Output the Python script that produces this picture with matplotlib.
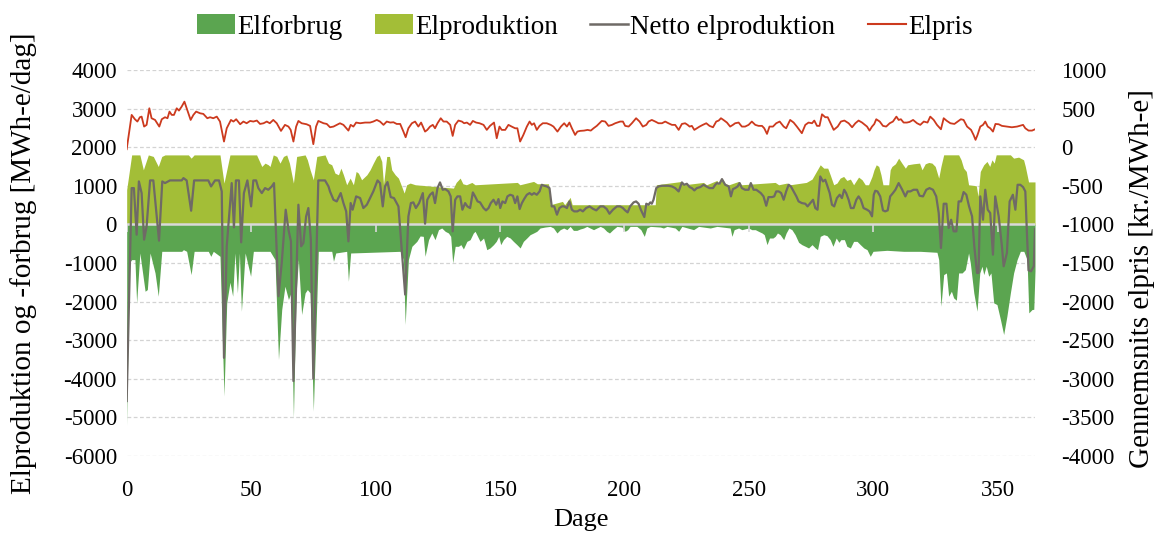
import numpy as np
import matplotlib
matplotlib.use("Agg")
import matplotlib.pyplot as plt
from matplotlib.patches import Patch
from matplotlib.lines import Line2D

# ---------------- data ----------------
prod_days = [0, 2.0, 5.3, 6.7, 8.7, 10.7, 12.7, 14.1, 15.4, 24.8, 25.9, 27.1, 37.5, 39.1, 41.5, 52.2, 54.3, 55.6, 56.9, 57.6,
             58.9, 60.3, 61.6, 63.0, 64.3, 65.4, 67.0, 68.3, 71.7, 72.6, 73.7, 75.0, 76.4, 79.7, 81.1, 82.4, 83.7, 85.1, 86.1,
             87.1, 88.4, 89.8, 91.1, 92.2, 93.1, 94.4, 96.5, 97.8, 99.1, 100.5, 101.5, 102.5, 103.2, 104.5, 105.6, 106.5,
             107.9, 109.2, 110.5, 111.5, 112.5, 113.9, 116, 131.3, 132.4, 134.0, 135.1, 136.5, 138.7, 140, 157.0, 158, 163.5,
             165, 169.5, 170.2, 175.1, 176, 178.2, 179, 212.4, 212.8, 223.1, 224, 231.8, 233, 237.2, 238, 239.2, 240.5, 242,
             245.9, 247, 260.6, 262, 265.3, 266.5, 273.1, 275.4, 278.7, 280.1, 281.7, 282.7, 284.1, 285.4, 286.7, 288.1,
             289.4, 290.8, 292.1, 293.4, 294.1, 295.5, 296.8, 298.1, 299.5, 300.3, 301.2, 302.2, 303.1, 303.9, 306.2, 306.8,
             307.5, 308.9, 310.2, 311.5, 312.9, 313.8, 316.2, 318.6, 319.6, 320.9, 322.3, 323.6, 324.9, 326.3, 327.2, 328.3,
             334.3, 335.3, 336.3, 337.4, 338.3, 341.4, 342.1, 343.0, 344.4, 345.7, 346.8, 347.7, 348.6, 349.4, 355.1, 356.4,
             358.4, 360.4, 361.1, 362.4, 365]
prod_vals = [900, 1800, 1800, 1414, 1800, 1760, 1500, 1760, 1800, 1800, 1716, 1800, 1800, 1070, 1800, 1800, 1500, 1587, 1544, 1500,
             1800, 1760, 1587, 1760, 1800, 1587, 1070, 1760, 1800, 1673, 1414, 1156, 1760, 1800, 1587, 1544, 1328, 1285, 1457,
             1285, 1026, 1199, 1026, 1371, 1328, 1156, 1285, 1414, 1587, 1760, 1800, 1630, 1026, 1760, 1760, 1414,
             1285, 1199, 983, 811, 1026, 1070, 1026, 940, 1087, 1199, 1052, 1026, 1087, 1026, 1087, 1026, 1113,
             1052, 1052, 509, 595, 509, 700, 509, 509, 1026, 1113, 1026, 1087, 1026, 1139, 1026, 1199, 1052, 1026,
             1113, 1026, 1087, 1026, 1070, 1026, 1087, 1173, 1544, 1457, 1457, 1285, 1026, 1070, 1199, 1242,
             1139, 1173, 1026, 1156, 1225, 1156, 1026, 1026, 1242, 1414, 1544, 1501, 1285, 1026, 1026, 1414,
             1501, 1570, 1716, 1587, 1457, 1544, 1570, 1587, 1414, 1570, 1604, 1587, 1501, 1199, 1501, 1802,
             1802, 1673, 1457, 1371, 1026, 1000, 725, 1371, 1544, 1630, 1501, 1673, 1587, 1802, 1802, 1716,
             1742, 1673, 1501, 1100, 1100]

cons_days = [0, 1.0, 2.0, 3.3, 4.0, 5.3, 7.4, 8.3, 9.4, 11.4, 12.7, 14.1, 22.1, 22.8, 24.1, 25.9, 27.1, 32.8, 33.8, 34.8, 37.5,
             39.1, 40.2, 41.5, 42.6, 43.5, 44.5, 45.3, 46.1, 47.6, 49.8, 50.9, 57.6, 59.6, 61.0, 62.3, 63.6, 65.0, 66.0, 67.0,
             68.1, 69.0, 70.3, 71.7, 72.6, 73.7, 75.0, 76.1, 77.0, 82.4, 83.1, 84.0, 88.4, 89.1, 90.0, 109.9, 111.2, 111.9,
             113.2, 114.6, 116.6, 117.9, 119.2, 119.9, 121.3, 122.6, 123.9, 125.3, 126.6, 128.0, 129.3, 130.2, 131.0, 132.0,
             133.3, 134.3, 135.3, 136.7, 138.0, 139.3, 140.0, 141.0, 142.0, 143.4, 144.7, 146.0, 147.4, 148.5, 149.5, 150.3,
             151.4, 152.7, 154.1, 155.4, 156.8, 158.1, 159.4, 160.8, 162.1, 163.5, 164.8, 166.1, 168.1, 170.2, 171.5, 172.9,
             174.2, 175.6, 176.9, 178.2, 179.5, 180.9, 182.2, 183.6, 184.9, 186.2, 187.6, 188.9, 190.3, 191.6, 192.9, 194.0,
             195.4, 197.0, 199.0, 200.3, 201.3, 202.3, 205.0, 206.6, 208.0, 209.0, 210.4, 214.4, 215.7, 217.1, 220.4, 221.8,
             223.1, 227.8, 229.8, 234.5, 237.2, 242.5, 243.2, 244.1, 245.9, 247.2, 249.9, 251.2, 252.6, 253.9, 255.3, 256.2,
             257.3, 258.3, 259.7, 260.6, 261.5, 262.6, 264.0, 265.0, 266.1, 267.3, 268.6, 270.0, 271.3, 272.7, 274.0, 275.4,
             276.7, 277.6, 278.7, 280.1, 281.4, 282.7, 283.8, 285.1, 286.2, 287.0, 288.4, 289.4, 290.8, 292.1, 293.5, 294.8,
             296.2, 297.5, 298.8, 299.9, 305.5, 312.2, 318.9, 325.6, 326.3, 327.2, 328.3, 329.4, 330.3, 331.4, 332.3, 333.4,
             334.3, 335.7, 337.0, 338.3, 339.0, 340.4, 341.7, 342.8, 343.7, 344.4, 345.4, 346.4, 347.3, 348.4, 349.7, 351.1,
             352.4, 353.7, 355.1, 356.4, 357.8, 359.1, 360.5, 361.8, 362.5, 363.8, 364.5, 365.0]
cons_vals = [-5200, -1000, -913, -913, -2034, -741, -1732, -1689, -741, -1258, -1861, -698, -698, -655, -698, -1301, -698, -698, -827, -698, -827,
             -4447, -2034, -1500, -1861, -741, -1775, -741, -2249, -741, -1344, -698, -698, -913, -3499, -2206, -1603, -1947, -1775, -5008,
             -1775, -913, -2335, -1775, -1689, -1775, -4835, -2637, -698, -698, -956, -741, -698, -1473, -741, -698, -913, -2594,
             -913, -568, -440, -300, -310, -827, -396, -223, -396, -137, -94, -180, -223, -310, -999, -568,
             -568, -525, -637, -440, -396, -223, -180, -310, -440, -353, -655, -611, -525, -440, -310, -525,
             -396, -310, -353, -440, -525, -611, -440, -353, -267, -223, -180, -94, -69, -52, -94, -223,
             -137, -94, -137, -52, -155, -155, -120, -94, -52, -94, -137, -94, -52, -94, -180, -223,
             -137, -52, -69, -180, -137, -52, -52, -137, -310, -94, -52, -69, -94, -52, -94, -180,
             -52, -137, -52, -94, -52, -94, -310, -137, -94, -137, -94, -137, -137, -180, -223, -267,
             -525, -353, -353, -310, -223, -267, -396, -223, -94, -137, -267, -465, -525, -568, -611, -525,
             -611, -655, -310, -267, -292, -396, -568, -353, -465, -396, -396, -568, -611, -440, -440, -525,
             -611, -655, -827, -698, -672, -698, -698, -723, -913, -2120, -1301, -1258, -1861, -1732, -1904, -1965,
             -1258, -1258, -1172, -741, -999, -1775, -2249, -1258, -1085, -1301, -1085, -1344, -1258, -2034, -2077, -2465,
             -2853, -2378, -1775, -1258, -913, -698, -698, -913, -2292, -2206, -2200, -1200]

net_days = [0, 2.0, 2.9, 4.0, 4.9, 6.0, 7.0, 8.0, 9.4, 10.7, 13.0, 14.3, 15.4, 17.4, 22.1, 22.8, 24.1, 25.9, 27.1, 32.8, 33.9,
            35.5, 37.1, 38.2, 39.1, 40.2, 42.2, 43.1, 43.9, 45.1, 46.0, 47.1, 48.5, 50.0, 50.9, 52.0, 52.9, 54.3, 55.6, 56.9,
            58.3, 59.2, 61.0, 62.3, 63.9, 65.0, 66.0, 67.0, 69.0, 70.1, 71.0, 72.1, 73.0, 74.0, 75.0, 77.0, 79.7, 81.1, 81.7,
            83.1, 84.4, 86.0, 87.1, 88.2, 89.1, 90.0, 90.8, 92.2, 93.8, 95.1, 96.5, 97.8, 99.1, 100.8, 101.8, 102.9, 103.8,
            104.8, 106.1, 107.4, 109.2, 111.9, 113.2, 114.2, 115.2, 116.2, 117.5, 119.0, 119.9, 120.8, 121.9, 123.0, 123.9,
            124.9, 125.9, 127.0, 128.0, 129.3, 130.2, 131.0, 132.0, 132.9, 134.0, 134.9, 136.0, 136.9, 138.0, 139.1, 140.0,
            141.0, 142.0, 143.4, 144.4, 145.4, 146.3, 147.4, 148.5, 149.4, 150.1, 151.0, 152.1, 153.0, 154.1, 155.2, 156.1,
            157.0, 157.9, 158.8, 159.7, 160.8, 161.9, 162.8, 163.7, 164.8, 165.9, 166.8, 167.8, 168.8, 169.9, 170.8, 171.8,
            172.9, 173.9, 174.9, 175.8, 176.9, 177.9, 178.9, 179.8, 181.1, 182.2, 183.3, 184.6, 186.0, 187.3, 188.7, 190.3,
            191.6, 192.9, 194.0, 195.4, 197.0, 198.3, 199.4, 200.3, 201.3, 202.3, 203.7, 204.7, 205.7, 206.6, 208.0, 208.8,
            209.7, 210.4, 211.0, 211.7, 212.8, 213.7, 215.1, 217.7, 219.1, 220.4, 221.8, 223.1, 224.0, 225.1, 226.2, 227.1,
            228.1, 229.1, 230.5, 231.8, 232.9, 234.2, 235.6, 236.5, 237.2, 238.2, 239.2, 240.5, 241.9, 242.8, 243.6, 244.5,
            245.5, 246.3, 247.2, 248.5, 249.9, 250.8, 251.9, 253.0, 253.9, 254.8, 255.9, 257.0, 257.9, 259.3, 260.2, 261.0,
            262.0, 263.0, 264.0, 265.0, 266.0, 266.9, 268.0, 269.1, 270.0, 271.3, 272.7, 273.6, 274.7, 275.8, 276.7, 277.6,
            278.7, 279.8, 280.7, 281.4, 282.5, 283.4, 284.3, 285.4, 286.5, 287.4, 288.3, 289.1, 290.1, 291.0, 292.1, 293.2,
            294.1, 295.0, 296.1, 297.5, 298.5, 299.5, 300.2, 300.8, 301.7, 302.8, 303.9, 304.8, 305.8, 306.8, 307.9, 308.9,
            310.2, 311.5, 312.9, 313.8, 314.9, 316.2, 317.6, 318.6, 320.0, 321.3, 322.6, 324.0, 325.3, 326.3, 327.2, 328.3,
            329.4, 330.3, 331.3, 332.3, 333.4, 334.3, 335.3, 336.3, 337.4, 338.5, 339.7, 340.6, 341.7, 342.3, 343.0, 344.1,
            345.0, 346.0, 347.0, 348.1, 349.0, 350.4, 351.7, 352.4, 353.7, 354.8, 356.1, 357.1, 358.0, 359.1, 360.2, 361.1,
            361.8, 362.4, 363.4, 364.5, 365.0]
net_vals = [-4577, 940, 940, -267, 1113, 811, -396, -52, 1139, 1139, -422, 1113, 1070, 1139, 1139, 1199, 1139, 354, 1139, 1139, 983,
            1139, 1139, 854, -3456, -568, 1070, -77, 1139, 1139, -465, 811, 1139, 466, 1139, 1139, 940, 811, 940, 897,
            983, 1070, -1861, -999, 380, -137, -439, -4059, 509, -568, -482, 207, 423, -396, -3999, 1139, 1139, 983, 854,
            638, 595, 811, 552, 337, -439, 552, 380, 725, 682, 423, 509, 682, 854, 1139, 1070, 466, 983,
            1096, 707, 682, 466, -1818, 207, 552, 570, 423, 552, 811, 18, 638, 768, 828, 552,
            940, 1087, 897, 914, 854, 725, -180, 638, 725, 725, 380, 552, 466, 423, 828, 725,
            595, 570, 423, 363, 423, 552, 638, 509, 656, 423, 595, 552, 725, 768, 742, 552,
            725, 397, 552, 656, 768, 811, 768, 811, 768, 854, 1026, 1000, 983, 940, 466, 466,
            251, 423, 466, 466, 423, 595, 380, 337, 337, 380, 337, 423, 466, 406, 363, 466,
            466, 397, 276, 380, 466, 466, 423, 363, 311, 466, 570, 595, 535, 380, 190, 535,
            509, 570, 535, 638, 940, 983, 1000, 1000, 983, 940, 854, 1087, 1026, 1052, 966, 940,
            880, 940, 966, 1026, 983, 940, 940, 1026, 1070, 1052, 1173, 1026, 983, 725, 914, 940,
            983, 1070, 940, 897, 897, 1070, 897, 897, 854, 811, 725, 483, 707, 707, 725, 854,
            854, 811, 638, 854, 1026, 983, 854, 725, 595, 552, 535, 466, 552, 638, 423, 380,
            1242, 1113, 1156, 1026, 811, 509, 466, 682, 768, 682, 897, 811, 638, 423, 423, 638,
            725, 638, 423, 380, 337, 208, 768, 871, 854, 725, 363, 337, 363, 725, 811, 897,
            1070, 914, 725, 854, 854, 897, 897, 742, 725, 897, 940, 897, 725, 294, -611, 535,
            535, -94, 121, -180, -180, 595, 595, 837, 768, 466, 208, -568, -1258, -1258, 725, 121,
            897, 380, 294, -784, 725, 208, -568, -1085, -740, 595, 768, 380, 1026, 1026, 966, 854,
            -310, -1190, -1215, -1085, -120]

price_days = [0, 2, 3.3, 4.3, 5.3, 6.0, 7.0, 8.0, 9.1, 10.0, 11.4, 13.1, 14.1, 15.4, 16.4, 17.2, 18.1, 19.0, 20.1, 21.0, 22.1,
              23.2, 24.1, 25.7, 26.8, 27.9, 29.5, 30.8, 32.4, 33.5, 34.8, 36.2, 37.5, 39.1, 40.2, 41.9, 42.9, 44.0, 45.6, 46.9,
              48.2, 49.6, 50.9, 52.3, 53.6, 55.0, 56.3, 57.5, 58.9, 60.3, 62.0, 63.6, 65.0, 65.9, 67.0, 68.1, 69.0, 70.3, 72.3,
              73.7, 75.0, 76.1, 77.0, 79.1, 80.4, 81.7, 83.1, 84.4, 85.7, 87.1, 89.1, 90.0, 91.1, 92.2, 93.8, 95.8, 97.8, 99.1,
              100.5, 101.8, 103.2, 104.5, 105.9, 107.2, 108.5, 109.9, 111.2, 112.1, 113.2, 114.6, 115.9, 117.2, 118.3, 119.9,
              120.8, 121.9, 123.0, 123.9, 124.9, 126.2, 127.3, 128.6, 130.0, 131.0, 132.0, 133.3, 134.7, 135.6, 136.7, 138.0,
              139.1, 140.4, 141.8, 143.4, 144.7, 146.0, 147.6, 148.7, 149.8, 150.7, 152.1, 153.4, 154.7, 156.1, 157.0, 158.1,
              159.4, 160.8, 161.9, 162.8, 163.7, 164.8, 165.9, 167.2, 168.8, 170.4, 171.5, 173.1, 174.5, 175.8, 176.9, 177.9,
              178.9, 180.2, 181.1, 182.2, 183.8, 185.2, 186.5, 187.6, 188.9, 190.9, 192.3, 193.6, 195.0, 196.3, 198.3, 199.4,
              200.3, 201.7, 203.0, 204.7, 206.1, 207.4, 208.8, 209.7, 211.0, 212.4, 213.7, 215.1, 216.4, 217.7, 219.1, 220.4,
              221.8, 223.1, 224.4, 225.4, 226.2, 227.1, 228.1, 229.1, 230.2, 231.5, 232.9, 234.2, 235.6, 236.9, 237.9, 238.8,
              239.8, 241.2, 242.5, 243.6, 244.5, 245.9, 247.2, 248.5, 249.9, 251.2, 252.6, 253.9, 255.3, 256.2, 257.3, 258.3,
              259.7, 261.0, 262.4, 264.0, 265.0, 266.6, 268.0, 269.3, 271.3, 272.7, 274.0, 275.4, 276.3, 277.4, 278.4, 279.4,
              280.7, 281.7, 282.7, 284.1, 285.7, 287.0, 288.4, 290.1, 291.5, 292.8, 294.1, 295.5, 297.5, 298.5, 299.5, 300.4,
              301.2, 302.6, 303.9, 305.2, 306.6, 307.9, 309.3, 310.2, 311.1, 312.2, 313.5, 314.6, 316.0, 317.6, 318.9, 320.3,
              321.8, 322.9, 324.3, 325.6, 327.2, 328.3, 329.6, 331.0, 332.6, 333.9, 335.2, 336.3, 337.7, 339.3, 340.3, 341.1,
              341.9, 343.0, 344.1, 345.0, 346.0, 347.0, 348.1, 349.1, 350.4, 351.7, 353.7, 355.7, 357.8, 360.2, 361.1, 362.4,
              363.8, 365.0]
price_vals = [-26, 418, 362, 332, 388, 396, 267, 289, 504, 375, 353, 267, 362, 388, 375, 461, 418, 418, 504, 474, 526,
              590, 504, 353, 418, 461, 439, 431, 375, 388, 375, 396, 332, 73, 245, 353, 332, 362, 297, 332,
              310, 340, 332, 345, 301, 310, 332, 310, 353, 310, 211, 289, 267, 224, 73, 267, 340, 310, 297,
              276, 39, 267, 340, 310, 301, 258, 267, 289, 310, 289, 215, 289, 267, 319, 310, 319, 319, 332,
              353, 332, 289, 332, 319, 323, 301, 301, 202, 129, 245, 310, 332, 267, 319, 202,
              224, 267, 289, 245, 310, 375, 332, 332, 289, 146, 289, 345, 332, 310, 319, 289,
              340, 319, 310, 289, 224, 276, 319, 116, 267, 224, 224, 289, 267, 245, 245, 73,
              159, 267, 332, 289, 310, 224, 276, 310, 310, 289, 267, 202, 267, 310, 267, 319,
              245, 159, 202, 211, 215, 224, 215, 245, 276, 340, 332, 276, 289, 310, 332, 332,
              276, 267, 310, 375, 332, 267, 289, 332, 353, 332, 310, 310, 332, 310, 289, 289,
              224, 301, 310, 289, 267, 276, 224, 245, 267, 289, 310, 276, 258, 332, 345, 375,
              353, 319, 267, 289, 310, 319, 267, 267, 289, 332, 289, 276, 276, 245, 172, 267,
              267, 310, 332, 267, 245, 353, 319, 267, 181, 289, 319, 310, 345, 276, 276, 426,
              388, 388, 319, 224, 267, 332, 345, 310, 258, 310, 345, 319, 267, 215, 267, 300,
              362, 332, 276, 267, 310, 332, 396, 353, 362, 319, 319, 327, 353, 310, 289, 332,
              319, 396, 353, 289, 232, 375, 340, 310, 301, 332, 362, 353, 267, 224, 159, 95,
              159, 267, 289, 332, 267, 245, 202, 301, 297, 276, 267, 258, 267, 289, 245, 215,
              215, 232]

x_ticks = [0, 50, 100, 150, 200, 250, 300, 350]
y_left_ticks = list(range(-6000, 4001, 1000))
y_right_ticks = list(range(-4000, 1001, 500))


def sorted_xy(d, v):
    d = np.asarray(d, float)
    v = np.asarray(v, float)
    o = np.argsort(d, kind="stable")
    return d[o], v[o]


# ---------------- styling ----------------
plt.rcParams['font.family'] = ['Liberation Serif', 'DejaVu Serif']
plt.rcParams['axes.unicode_minus'] = False
FS = 16.5

C_CONS = '#5BA550'
C_PROD = '#A3BE37'
C_NET = '#6F6A66'
C_PRICE = '#CC3A1E'
C_GRID = '#D3D3D3'

fig = plt.figure(figsize=(11.58, 5.40), dpi=100)
ax = fig.add_axes([0.1094, 0.1556, 0.7844, 0.7148])

pd_, pv_ = sorted_xy(prod_days, prod_vals)
cd_, cv_ = sorted_xy(cons_days, cons_vals)
nd_, nv_ = sorted_xy(net_days, net_vals)
qd_, qv_ = sorted_xy(price_days, price_vals)

ax.fill_between(cd_, 0, cv_, color=C_CONS, lw=0, zorder=1)
ax.fill_between(pd_, 0, pv_, color=C_PROD, lw=0, zorder=1)

# zero line with small tick marks
ax.axhline(0, color='#D9D9D9', lw=1.8, zorder=2)
ax.vlines(x_ticks, -190, 0, color='#D9D9D9', lw=1.2, zorder=2)

ax.plot(nd_, nv_, color=C_NET, lw=1.6, zorder=3)

ax.set_xlim(0, 365)
ax.set_ylim(-6000, 4000)
ax.set_xticks(x_ticks)
ax.set_yticks(y_left_ticks)
ax.yaxis.grid(True, color=C_GRID, lw=0.9, ls=(0, (3, 2)), zorder=0)
ax.set_axisbelow(True)
for s in ax.spines.values():
    s.set_visible(False)
ax.tick_params(axis='both', length=0, labelsize=FS, colors='black')
ax.tick_params(axis='y', pad=7)
ax.tick_params(axis='x', pad=17)
ax.set_xlabel('Dage', fontsize=19, labelpad=6)
ax.set_ylabel('Elproduktion og -forbrug [MWh-e/dag]', fontsize=21, labelpad=1)
ax.yaxis.set_label_coords(-0.099, 0.5)

ax2 = ax.twinx()
ax2.plot(qd_, qv_, color=C_PRICE, lw=1.3, zorder=4)
ax2.set_ylim(-4000, 1000)
ax2.set_yticks(y_right_ticks)
for s in ax2.spines.values():
    s.set_visible(False)
ax2.tick_params(axis='y', length=0, labelsize=FS, colors='black', pad=19)
ax2.set_ylabel('Gennemsnits elpris [kr./MWh-e]', fontsize=21, labelpad=6)
ax2.yaxis.set_label_coords(1.104, 0.46)

handles = [Patch(facecolor=C_CONS, edgecolor='none'),
           Patch(facecolor=C_PROD, edgecolor='none'),
           Line2D([0], [0], color=C_NET, lw=1.8),
           Line2D([0], [0], color=C_PRICE, lw=1.5)]
labels = ['Elforbrug', 'Elproduktion', 'Netto elproduktion', 'Elpris']
fig.legend(handles, labels, loc='center', bbox_to_anchor=(0.505, 0.95), ncol=4, frameon=False,
           fontsize=19.5, handlelength=1.4, handleheight=0.75, handletextpad=0.08, columnspacing=1.2)

fig.savefig('out.png', dpi=100)
